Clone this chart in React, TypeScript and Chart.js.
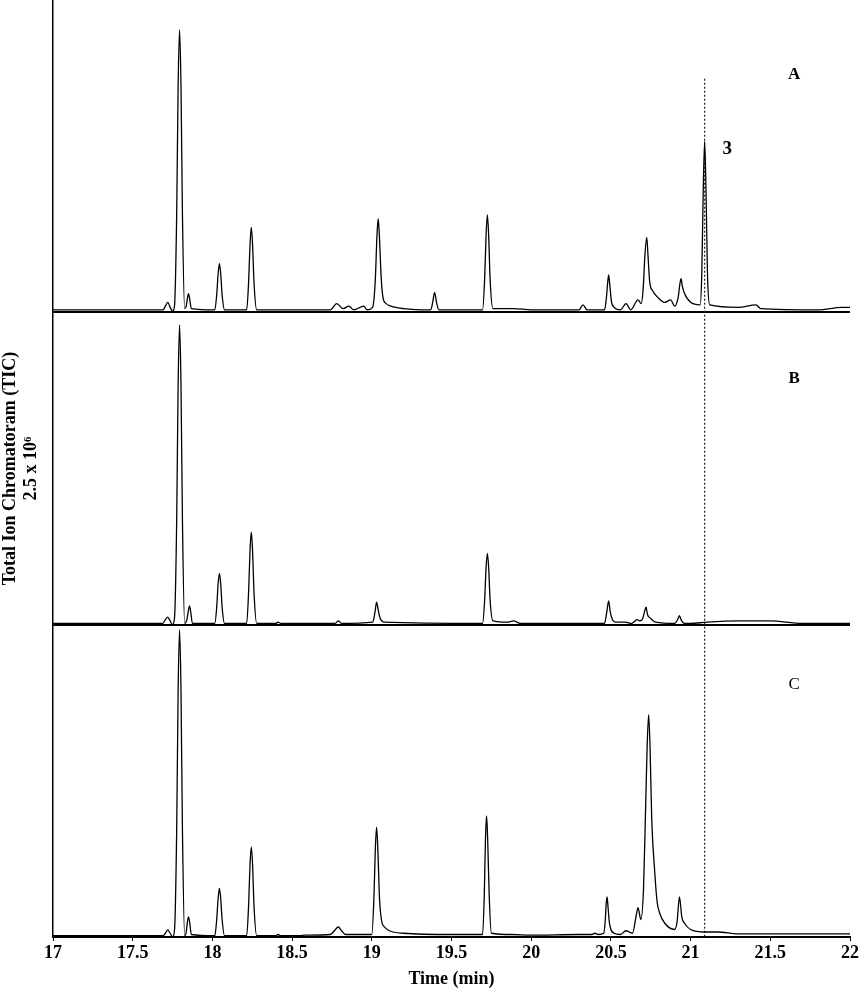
import React, { useEffect, useRef } from 'react';
import { Chart, registerables } from 'chart.js';

Chart.register(...registerables);

// ---- Data (time in min, intensity in units of 10^6 counts) ----
const timeA = [
  17.00, 17.30, 17.69, 17.705, 17.72, 17.735, 17.75,
  17.762, 17.776, 17.785, 17.794, 17.803, 17.812, 17.826,
  17.836, 17.843, 17.85, 17.857, 17.868,
  18.015, 18.027, 18.036, 18.044, 18.052, 18.061, 18.076,
  18.215, 18.227, 18.236, 18.244, 18.252, 18.261, 18.278,
  18.74, 18.78, 18.82, 18.856, 18.885, 18.95, 18.97,
  19.005, 19.022, 19.032, 19.04, 19.048, 19.058, 19.07, 19.09, 19.12, 19.20,
  19.37, 19.382, 19.394, 19.406, 19.42,
  19.695, 19.708, 19.717, 19.725, 19.733, 19.742, 19.76,
  19.89, 20.00, 20.30, 20.325, 20.35,
  20.46, 20.472, 20.48, 20.486, 20.493, 20.503, 20.52, 20.56, 20.595, 20.625, 20.67, 20.69,
  20.703, 20.713, 20.725, 20.733, 20.743, 20.763, 20.794, 20.838, 20.875, 20.90,
  20.922, 20.932, 20.94, 20.948, 20.962, 21.00, 21.06,
  21.07, 21.079, 21.088, 21.097, 21.106, 21.12,
  21.30, 21.41, 21.44, 21.80, 21.95, 22.00,
];
const ticA = [
  0.02, 0.02, 0.02, 0.05, 0.08, 0.04, 0.01,
  0.05, 0.79, 1.81, 2.26, 1.81, 0.79, 0.03,
  0.05, 0.11, 0.15, 0.11, 0.03,
  0.02, 0.14, 0.31, 0.39, 0.31, 0.14, 0.02,
  0.02, 0.24, 0.54, 0.68, 0.54, 0.24, 0.02,
  0.02, 0.07, 0.03, 0.05, 0.02, 0.05, 0.02,
  0.04, 0.26, 0.60, 0.75, 0.60, 0.30, 0.12, 0.07, 0.05, 0.03,
  0.02, 0.08, 0.16, 0.08, 0.02,
  0.02, 0.27, 0.62, 0.78, 0.62, 0.27, 0.03,
  0.03, 0.02, 0.02, 0.06, 0.02,
  0.02, 0.12, 0.24, 0.30, 0.22, 0.09, 0.04, 0.02, 0.07, 0.02, 0.10, 0.07,
  0.20, 0.45, 0.60, 0.45, 0.25, 0.17, 0.12, 0.08, 0.10, 0.05,
  0.12, 0.22, 0.27, 0.21, 0.15, 0.08, 0.06,
  0.30, 0.95, 1.37, 0.95, 0.30, 0.06,
  0.04, 0.06, 0.03, 0.02, 0.04, 0.04,
];

const timeB = [
  17.00, 17.69, 17.705, 17.72, 17.735, 17.75,
  17.762, 17.776, 17.785, 17.794, 17.803, 17.812, 17.826,
  17.84, 17.849, 17.856, 17.863, 17.875,
  18.015, 18.027, 18.036, 18.044, 18.052, 18.061, 18.076,
  18.215, 18.227, 18.236, 18.244, 18.252, 18.261, 18.278,
  18.40, 18.41, 18.43, 18.77, 18.79, 18.81,
  19.005, 19.02, 19.03, 19.04, 19.05, 19.08,
  19.695, 19.708, 19.717, 19.725, 19.733, 19.742, 19.76,
  19.85, 19.89, 19.93, 20.46,
  20.474, 20.486, 20.496, 20.51, 20.53, 20.59, 20.63,
  20.665, 20.68, 20.70, 20.712, 20.72, 20.73, 20.75, 20.78,
  20.90, 20.922, 20.93, 20.94, 20.96, 21.00,
  21.10, 21.30, 21.50, 21.70, 22.00,
];
const ticB = [
  0.01, 0.01, 0.04, 0.06, 0.03, 0.00,
  0.05, 0.84, 1.92, 2.40, 1.92, 0.84, 0.01,
  0.04, 0.11, 0.15, 0.11, 0.01,
  0.01, 0.14, 0.33, 0.41, 0.33, 0.14, 0.01,
  0.01, 0.26, 0.59, 0.74, 0.59, 0.26, 0.01,
  0.01, 0.02, 0.01, 0.01, 0.03, 0.01,
  0.02, 0.10, 0.18, 0.12, 0.06, 0.02,
  0.01, 0.20, 0.46, 0.57, 0.46, 0.20, 0.03,
  0.02, 0.03, 0.01, 0.01,
  0.10, 0.19, 0.10, 0.04, 0.02, 0.02, 0.01,
  0.04, 0.03, 0.05, 0.11, 0.14, 0.08, 0.05, 0.02,
  0.01, 0.05, 0.073, 0.04, 0.01, 0.01,
  0.02, 0.03, 0.03, 0.01, 0.01,
];

const timeC = [
  17.00, 17.69, 17.705, 17.72, 17.735, 17.75,
  17.762, 17.776, 17.785, 17.794, 17.803, 17.812, 17.826,
  17.836, 17.843, 17.85, 17.857, 17.868,
  18.015, 18.027, 18.036, 18.044, 18.052, 18.061, 18.076,
  18.215, 18.227, 18.236, 18.244, 18.252, 18.261, 18.278,
  18.40, 18.41, 18.43, 18.55, 18.58, 18.74, 18.765, 18.79, 18.81, 18.835,
  19.00, 19.013, 19.022, 19.03, 19.038, 19.048, 19.06, 19.08, 19.11, 19.20, 19.50,
  19.695, 19.706, 19.713, 19.72, 19.727, 19.736, 19.75,
  19.88, 20.00, 20.30, 20.38, 20.40, 20.42, 20.455,
  20.465, 20.47, 20.476, 20.482, 20.49, 20.52, 20.56, 20.594, 20.635,
  20.66, 20.67, 20.688, 20.705, 20.718, 20.728, 20.737, 20.746, 20.756, 20.775, 20.79, 20.806, 20.838, 20.90,
  20.915, 20.93, 20.945, 20.962, 21.00, 21.09, 21.17, 21.30, 21.60, 22.00,
];
const ticC = [
  0.01, 0.01, 0.03, 0.057, 0.03, 0.00,
  0.05, 0.86, 1.97, 2.46, 1.97, 0.86, 0.01,
  0.04, 0.12, 0.16, 0.12, 0.02,
  0.01, 0.14, 0.31, 0.39, 0.31, 0.14, 0.01,
  0.01, 0.25, 0.58, 0.72, 0.58, 0.25, 0.01,
  0.01, 0.02, 0.01, 0.01, 0.015, 0.02, 0.05, 0.08, 0.05, 0.02,
  0.02, 0.30, 0.70, 0.88, 0.70, 0.32, 0.14, 0.08, 0.05, 0.03, 0.02,
  0.02, 0.35, 0.78, 0.97, 0.78, 0.35, 0.03,
  0.02, 0.015, 0.02, 0.02, 0.03, 0.02, 0.03,
  0.14, 0.26, 0.32, 0.24, 0.12, 0.03, 0.02, 0.05, 0.03,
  0.18, 0.235, 0.14, 0.40, 1.05, 1.55, 1.78, 1.50, 0.95, 0.52, 0.28, 0.19, 0.11, 0.06,
  0.12, 0.32, 0.16, 0.11, 0.06, 0.04, 0.04, 0.025, 0.025, 0.025,
];

const xTicks = [17, 17.5, 18, 18.5, 19, 19.5, 20, 20.5, 21, 21.5, 22];
const panelNames = ['A', 'B', 'C'];
const panelLabelTime = 21.65;
const panelLabelLevel = [1.90, 1.97, 2.02];
const peakLabel = '3';
const peakLabelTime = 21.23;
const peakLabelLevel = 1.31;
const markerTime = 21.088;
const markerTop = 1.87;
const yTitle = ['Total Ion Chromatoram (TIC)', '2.5 x 10\u2076'];
const xTitle = 'Time (min)';
const yMax = 2.5;

const FONT = '"Liberation Serif", "Times New Roman", serif';

export default function App() {
  const ref = useRef<HTMLCanvasElement>(null);

  useEffect(() => {
    document.body.style.margin = '0';
    const zip = (t: number[], v: number[]) => t.map((x, i) => ({ x, y: v[i] }));
    const mk = (label: string, t: number[], v: number[], axis: string) => ({
      label,
      data: zip(t, v),
      yAxisID: axis,
      borderColor: '#000',
      borderWidth: 1.3,
      pointRadius: 0,
      cubicInterpolationMode: 'monotone' as const,
      fill: false,
    });

    const yAxis = (extra: any) => ({
      type: 'linear',
      position: 'left',
      stack: 'tic',
      stackWeight: 1,
      min: 0,
      max: yMax,
      ticks: { display: false },
      afterBuildTicks: (s: any) => { s.ticks = [{ value: 0 }]; },
      grid: { display: true, drawTicks: false, color: '#000', lineWidth: 2, drawOnChartArea: true },
      border: { display: true, color: '#000', width: 1.5 },
      afterFit: (s: any) => { s.width = 53; },
      ...extra,
    });

    const annot = {
      id: 'annot',
      beforeDatasetsDraw(chart: any) {
        const { ctx, scales } = chart;
        const px = scales.x.getPixelForValue(markerTime);
        const yTop = scales.yA.getPixelForValue(markerTop);
        const yBot = scales.yC.getPixelForValue(0);
        ctx.save();
        ctx.setLineDash([2, 2]);
        ctx.strokeStyle = '#222';
        ctx.lineWidth = 1.2;
        ctx.beginPath();
        ctx.moveTo(px, yTop);
        ctx.lineTo(px, yBot);
        ctx.stroke();
        ctx.restore();
      },
      afterDraw(chart: any) {
        const { ctx, scales } = chart;
        const ids = ['yA', 'yB', 'yC'];
        ctx.save();
        ctx.fillStyle = '#000';
        ctx.textAlign = 'center';
        ctx.textBaseline = 'middle';
        panelNames.forEach((n, i) => {
          ctx.font = (i === 2 ? '' : 'bold ') + '17px ' + FONT;
          ctx.fillText(n, scales.x.getPixelForValue(panelLabelTime), scales[ids[i]].getPixelForValue(panelLabelLevel[i]));
        });
        ctx.font = 'bold 19px ' + FONT;
        ctx.fillText(peakLabel, scales.x.getPixelForValue(peakLabelTime), scales.yA.getPixelForValue(peakLabelLevel));
        ctx.restore();
      },
    };

    const titleFont = { family: FONT, size: 18, weight: 'bold' as const, lineHeight: 1.15 };

    const chart = new Chart(ref.current as HTMLCanvasElement, {
      type: 'line',
      data: {
        datasets: [
          mk('A', timeA, ticA, 'yA'),
          mk('B', timeB, ticB, 'yB'),
          mk('C', timeC, ticC, 'yC'),
        ],
      },
      options: {
        animation: false,
        responsive: true,
        maintainAspectRatio: false,
        layout: { padding: { left: 0, right: 9, top: 0, bottom: 0 } },
        plugins: { legend: { display: false }, tooltip: { enabled: false } },
        scales: {
          x: {
            type: 'linear',
            position: 'bottom',
            min: 17,
            max: 22,
            afterBuildTicks: (s: any) => { s.ticks = xTicks.map((v) => ({ value: v })); },
            ticks: {
              callback: (v: any) => String(v),
              font: { family: FONT, size: 18, weight: 'bold' },
              color: '#000',
              maxRotation: 0,
              autoSkip: false,
              padding: 2,
            },
            grid: { display: true, drawOnChartArea: false, drawTicks: true, tickLength: 4, color: '#000', lineWidth: 1 },
            border: { display: true, color: '#000', width: 2 },
            title: { display: true, text: xTitle, font: titleFont, color: '#000', padding: { top: 0, bottom: 3 } },
            afterFit: (s: any) => { s.height = 56; },
          },
          yC: yAxis({}),
          yB: yAxis({
            title: { display: true, text: yTitle, font: titleFont, color: '#000', padding: 0 },
          }),
          yA: yAxis({}),
        } as any,
      },
      plugins: [annot],
    });
    return () => chart.destroy();
  }, []);

  return (
    <div style={{ width: 861, height: 993, position: 'relative' }}>
      <canvas ref={ref} />
    </div>
  );
}
